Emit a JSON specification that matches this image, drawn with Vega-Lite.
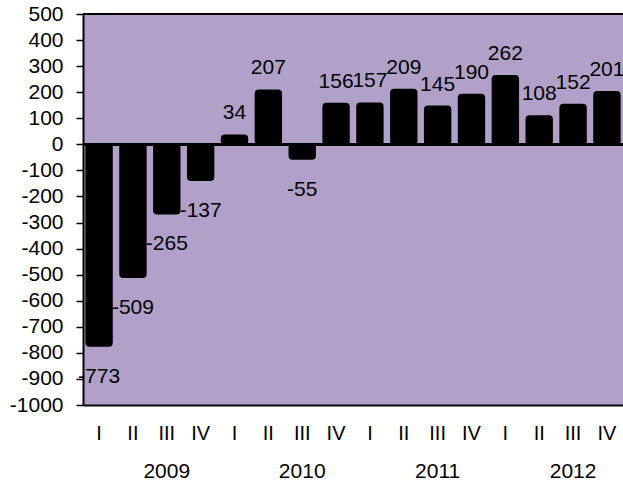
{
  "$schema": "https://vega.github.io/schema/vega-lite/v6.json",
  "autosize": {"type": "none"},
  "width": 540,
  "height": 391,
  "padding": {"left": 83, "top": 14, "right": 0, "bottom": 80},
  "background": "white",
  "config": {
    "font": "Liberation Sans",
    "view": {"fill": "#B1A1C9", "stroke": null}
  },
  "data": {
    "values": [
      {"key": "2009 I", "year": "2009", "quarter": "I", "value": -773},
      {"key": "2009 II", "year": "2009", "quarter": "II", "value": -509},
      {"key": "2009 III", "year": "2009", "quarter": "III", "value": -265},
      {"key": "2009 IV", "year": "2009", "quarter": "IV", "value": -137},
      {"key": "2010 I", "year": "2010", "quarter": "I", "value": 34},
      {"key": "2010 II", "year": "2010", "quarter": "II", "value": 207},
      {"key": "2010 III", "year": "2010", "quarter": "III", "value": -55},
      {"key": "2010 IV", "year": "2010", "quarter": "IV", "value": 156},
      {"key": "2011 I", "year": "2011", "quarter": "I", "value": 157},
      {"key": "2011 II", "year": "2011", "quarter": "II", "value": 209},
      {"key": "2011 III", "year": "2011", "quarter": "III", "value": 145},
      {"key": "2011 IV", "year": "2011", "quarter": "IV", "value": 190},
      {"key": "2012 I", "year": "2012", "quarter": "I", "value": 262},
      {"key": "2012 II", "year": "2012", "quarter": "II", "value": 108},
      {"key": "2012 III", "year": "2012", "quarter": "III", "value": 152},
      {"key": "2012 IV", "year": "2012", "quarter": "IV", "value": 201}
    ]
  },
  "encoding": {
    "x": {
      "field": "key",
      "type": "nominal",
      "sort": null,
      "scale": {"paddingInner": 0.25, "paddingOuter": 0.1},
      "axis": {
        "title": null,
        "labelAngle": 0,
        "labelExpr": "split(datum.value, ' ')[1]",
        "labelFontSize": 20,
        "labelColor": "black",
        "labelPadding": 18,
        "ticks": false,
        "domainColor": "black",
        "domainWidth": 2
      }
    },
    "y": {
      "field": "value",
      "type": "quantitative",
      "scale": {"domain": [-1000, 500], "nice": false},
      "axis": {
        "title": null,
        "grid": false,
        "values": [-1000, -900, -800, -700, -600, -500, -400, -300, -200, -100, 0, 100, 200, 300, 400, 500],
        "labelExpr": "'' + datum.value",
        "labelFontSize": 21,
        "labelColor": "black",
        "labelPadding": 13,
        "tickSize": 7,
        "tickColor": "black",
        "tickWidth": 1.5,
        "domainColor": "black",
        "domainWidth": 2
      }
    }
  },
  "layer": [
    {
      "mark": {"type": "bar", "color": "black", "stroke": "black", "strokeWidth": 2, "cornerRadius": 3}
    },
    {
      "mark": {"type": "rule", "color": "black", "strokeWidth": 2},
      "encoding": {"x": null, "y": {"datum": 0}}
    },
    {
      "mark": {"type": "rule", "color": "black", "strokeWidth": 2},
      "encoding": {"x": null, "y": {"datum": 500}}
    },
    {
      "transform": [{"filter": "datum.value > 0"}],
      "mark": {"type": "text", "fontSize": 21, "color": "black", "baseline": "middle", "dy": -22},
      "encoding": {"text": {"field": "value", "type": "nominal"}}
    },
    {
      "transform": [{"filter": "datum.value < 0"}],
      "mark": {"type": "text", "fontSize": 21, "color": "black", "baseline": "middle", "dy": 31},
      "encoding": {"text": {"field": "value", "type": "nominal"}}
    },
    {
      "transform": [{"filter": "datum.quarter == 'III'"}],
      "mark": {"type": "text", "fontSize": 21, "color": "black", "baseline": "middle", "dy": 67, "clip": false},
      "encoding": {
        "y": {"datum": -1000},
        "text": {"field": "year", "type": "nominal"}
      }
    }
  ]
}
